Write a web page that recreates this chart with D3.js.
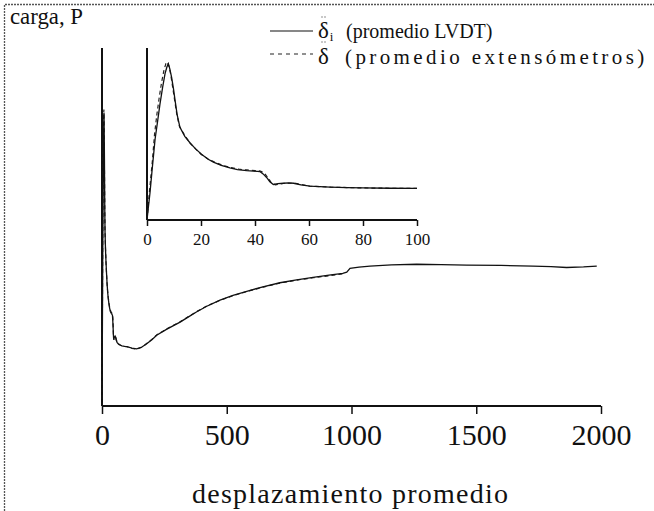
<!DOCTYPE html>
<html><head><meta charset="utf-8">
<script src="https://cdn.jsdelivr.net/npm/d3@7"></script>
<style>body{margin:0;background:#fff}svg{display:block}svg text{font-family:'Liberation Serif','DejaVu Serif',serif}</style>
</head><body><svg id="c" width="654" height="511"></svg>
<script>
// Inset detail (0-100), normalized load
const lvdtInset = [[0,0],[0.5,0.08],[1.1,0.173],[2,0.34],[3,0.518],[4,0.64],[4.8,0.741],[5.8,0.85],[6.7,0.938],[7.4,0.98],[7.9,1.0],[8.4,0.97],[9.1,0.914],[9.8,0.84],[10.4,0.765],[11.2,0.67],[12.2,0.593],[14,0.535],[15.9,0.494],[18,0.455],[20.2,0.42],[22.5,0.39],[24.6,0.37],[27.5,0.35],[30.7,0.333],[33.5,0.322],[36.9,0.316],[39.5,0.313],[41.9,0.309],[43,0.295],[44.3,0.272],[45.5,0.245],[46.8,0.227],[48.5,0.232],[50.5,0.235],[52.5,0.238],[54.3,0.235],[57,0.225],[60.4,0.217],[64,0.213],[67.8,0.21],[74,0.207],[80,0.205],[90,0.203],[100,0.202]];
const extInset = [[0,0],[1,0.2],[2,0.38],[2.8,0.55],[3.7,0.68],[4.5,0.78],[5.4,0.88],[6.3,0.96],[7,1.0],[7.6,1.01],[8.2,0.98],[8.8,0.93],[9.5,0.85],[10.2,0.77],[11,0.68],[12,0.6],[14,0.54],[16,0.49],[18,0.455],[20,0.42],[22.5,0.392],[25,0.37],[28,0.35],[31,0.335],[34,0.325],[37,0.32],[40,0.316],[42,0.313],[43.5,0.3],[44.8,0.27],[46,0.24],[47.5,0.225],[49,0.23],[51,0.235],[55,0.235],[60,0.217],[68,0.21],[80,0.205],[90,0.203],[100,0.202]];
// Main curve beyond 100
const lvdtMain = [[120,0.197],[139,0.195],[160,0.201],[179,0.212],[200,0.226],[219,0.241],[260,0.262],[313,0.286],[345,0.303],[380,0.321],[420,0.34],[473,0.361],[525,0.377],[580,0.391],[645,0.406],[713,0.42],[780,0.43],[846,0.438],[910,0.446],[965,0.452],[981,0.456],[994,0.469],[1030,0.473],[1074,0.477],[1160,0.481],[1261,0.483],[1360,0.482],[1462,0.48],[1600,0.479],[1727,0.477],[1800,0.475],[1862,0.472],[1930,0.474],[1983,0.477]];
const extMain = [[120,0.196],[139,0.194],[160,0.2],[179,0.213],[200,0.227],[219,0.242],[260,0.263],[313,0.287],[345,0.304],[380,0.322],[420,0.341],[473,0.36],[525,0.376],[580,0.39],[645,0.405],[713,0.419],[780,0.429],[846,0.437],[910,0.444],[965,0.45]];
const mainTicks = [0,500,1000,1500,2000];
const insetTicks = [0,20,40,60,80,100];

const svg = d3.select("#c");
// frame
svg.append("path").attr("d","M4.5,511 V4.5 H654").attr("fill","none").attr("stroke","#555").attr("stroke-width",1.3).attr("stroke-dasharray","2,1");

// main chart
const x = d3.scaleLinear().domain([0,2000]).range([102,601]);
const y = d3.scaleLinear().domain([0,1.22]).range([406,48]);
const line = d3.line().x(d=>x(d[0])).y(d=>y(d[1]));
const xg = svg.append("g").attr("transform","translate(0,406)")
  .call(d3.axisBottom(x).tickValues(mainTicks).tickSize(8).tickFormat(d3.format("d")).tickPadding(10));
xg.attr("font-family",null);
xg.select(".domain").attr("stroke","#111").attr("stroke-width",2).attr("d","M102,0H601");
xg.selectAll(".tick line").attr("stroke","#111").attr("stroke-width",1.5);
xg.selectAll(".tick text").attr("font-size",30).attr("fill","#111");
svg.append("line").attr("x1",102).attr("x2",102).attr("y1",y(1.22)).attr("y2",406).attr("stroke","#111").attr("stroke-width",2);
svg.append("path").datum(extInset.concat(extMain)).attr("d",line).attr("fill","none").attr("stroke","#222").attr("stroke-width",1.2).attr("stroke-dasharray","4,3");
svg.append("path").datum(lvdtInset.concat(lvdtMain)).attr("d",line).attr("fill","none").attr("stroke","#111").attr("stroke-width",1.3);

// inset
const xi = d3.scaleLinear().domain([0,100]).range([147,417]);
const yi = d3.scaleLinear().domain([0,1.1]).range([220,48]);
const linei = d3.line().x(d=>xi(d[0])).y(d=>yi(d[1]));
const xig = svg.append("g").attr("transform","translate(0,220)")
  .call(d3.axisBottom(xi).tickValues(insetTicks).tickSize(6).tickPadding(7));
xig.attr("font-family",null);
xig.select(".domain").attr("stroke","#111").attr("stroke-width",2).attr("d","M147,0H417");
xig.selectAll(".tick line").attr("stroke","#111").attr("stroke-width",1.5);
xig.selectAll(".tick text").attr("font-size",17).attr("fill","#111");
svg.append("line").attr("x1",147).attr("x2",147).attr("y1",yi(1.1)).attr("y2",220).attr("stroke","#111").attr("stroke-width",2);
svg.append("path").datum(extInset).attr("d",linei).attr("fill","none").attr("stroke","#222").attr("stroke-width",1.2).attr("stroke-dasharray","4,3");
svg.append("path").datum(lvdtInset).attr("d",linei).attr("fill","none").attr("stroke","#111").attr("stroke-width",1.3);

// texts
const T = (xx,yy,fs) => svg.append("text").attr("x",xx).attr("y",yy).attr("font-size",fs).attr("fill","#111");
T(10,24,23).attr("textLength",73).attr("lengthAdjust","spacingAndGlyphs").text("carga, P");
T(350,503,28).attr("text-anchor","middle").attr("textLength",316).attr("lengthAdjust","spacing").text("desplazamiento promedio");

// legend
svg.append("line").attr("x1",270).attr("x2",313).attr("y1",31).attr("y2",31).attr("stroke","#111").attr("stroke-width",1.2);
svg.append("line").attr("x1",270).attr("x2",313).attr("y1",54).attr("y2",54).attr("stroke","#222").attr("stroke-width",1.2).attr("stroke-dasharray","4,4");
const l1 = T(318,38,23);
l1.append("tspan").text("δ");
l1.append("tspan").attr("font-size",13).attr("dy",3).attr("dx",1).text("i");
l1.append("tspan").attr("font-size",20).attr("dy",-3).attr("x",346).text("(promedio LVDT)");
const l2 = T(318,63.5,23);
l2.append("tspan").text("δ");
l2.append("tspan").attr("font-size",21).attr("x",345).attr("letter-spacing",3.4).text("(promedio extensómetros)");
// small diacritic marks above the deltas
[[322,17],[325,17],[322,42],[325,42]].forEach(p=>svg.append("circle").attr("cx",p[0]).attr("cy",p[1]).attr("r",0.7).attr("fill","#666"));
</script></body></html>
